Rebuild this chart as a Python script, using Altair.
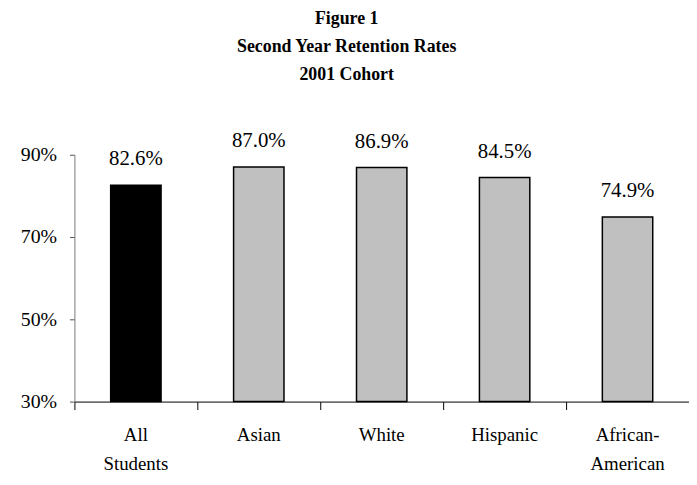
import altair as alt
import pandas as pd

categories = ["All|Students", "Asian", "White", "Hispanic", "African-|American"]
rates = [82.6, 87.0, 86.9, 84.5, 74.9]
labels = ["82.6%", "87.0%", "86.9%", "84.5%", "74.9%"]
group = ["all", "sub", "sub", "sub", "sub"]
y_ticks = [30, 50, 70, 90]

df = pd.DataFrame({"cat": categories, "rate": rates, "label": labels, "group": group})

FONT = "Liberation Serif"

x_scale = alt.Scale(domain=categories, paddingInner=0, paddingOuter=0)
y_scale = alt.Scale(domain=[30, 90], zero=False, nice=False)

x_axis = alt.Axis(
    title=None, labelExpr="split(datum.label, '|')", labelAngle=0,
    bandPosition=0, ticks=True, tickSize=8, tickColor="black",
    labelPadding=16, labelFontSize=19, labelLineHeight=30, labelFont=FONT,
    labelColor="black", domainColor="black", labelAlign="center", labelBaseline="top",
)
y_axis = alt.Axis(
    title=None, values=y_ticks, labelExpr="datum.value + '%'", tickSize=5,
    tickColor="#555", domainColor="#777", labelPadding=13, labelFontSize=20,
    labelFont=FONT, labelColor="black", grid=False,
)

base = alt.Chart(df)

bars = base.mark_bar(width=alt.RelativeBandSize(0.41), stroke="black", strokeWidth=1.5).encode(
    x=alt.X("cat:N", scale=x_scale, sort=categories, axis=x_axis),
    y=alt.Y("rate:Q", scale=y_scale, axis=y_axis),
    y2=alt.datum(30),
    color=alt.Color("group:N", scale=alt.Scale(domain=["all", "sub"], range=["#000000", "#c0c0c0"]), legend=None),
)

text = base.mark_text(baseline="alphabetic", dy=-20, fontSize=21, font=FONT, color="black").encode(
    x=alt.X("cat:N", scale=x_scale, sort=categories),
    y=alt.Y("rate:Q", scale=y_scale),
    text="label:N",
)

chart = alt.layer(bars, text).properties(
    width=620, height=249,
    padding={"left": 12, "top": 0, "right": 0, "bottom": 0},
    title=alt.Title(
        ["Figure 1", "Second Year Retention Rates", "2001 Cohort"],
        font=FONT, fontSize=18, fontWeight="bold", lineHeight=28,
        anchor="middle", frame="bounds", offset=45, dx=-8, dy=-2, color="black",
    ),
).configure_view(stroke=None)

chart.save("out.html", embed_options={"renderer": "svg", "actions": False})
